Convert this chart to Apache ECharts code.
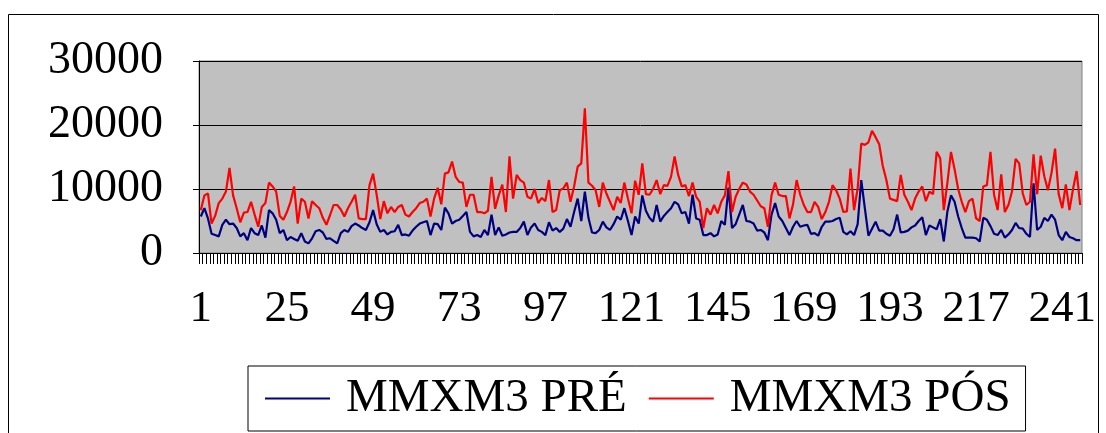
<!DOCTYPE html>
<html>
<head>
<meta charset="utf-8">
<script src="https://cdn.jsdelivr.net/npm/echarts@6/dist/echarts.min.js"></script>
<style>
  html, body { margin: 0; padding: 0; background: #fff; }
  #main { width: 1106px; height: 433px; }
</style>
</head>
<body>
<div id="main"></div>
<script>
// MMXM3 antes / depois, 246 observacoes
var seriesNames = ['MMXM3 PRÉ', 'MMXM3 PÓS'];

var mmxm3Pre = [
    5700, 7000, 5400, 3000, 2800, 2600, 4400, 5200, 4500, 4600, 3900, 2600, 3100, 2000, 3900, 3100,
    2800, 4300, 2400, 6700, 6200, 5200, 3100, 3600, 2000, 2500, 2200, 1900, 3100, 1800, 1500,
    2300, 3400, 3600, 3200, 2200, 2300, 1900, 1500, 3100, 3600, 3300, 4200, 4600, 4300, 3900,
    3600, 4800, 6700, 4500, 3300, 3600, 2900, 3300, 3400, 4400, 2800, 2900, 2700, 3500, 4100,
    4600, 4800, 5000, 2800, 4600, 4500, 3600, 7100, 6200, 4600, 5000, 5200, 5800, 6400, 3300,
    2600, 2800, 2500, 3600, 2800, 6000, 2800, 4000, 2700, 2900, 3200, 3300, 3300, 3900, 4900, 2800,
    4000, 4600, 3600, 3300, 2800, 4800, 3500, 3900, 3300, 3800, 5300, 4100, 6400, 8500, 5000,
    9600, 5500, 3200, 3100, 3600, 4900, 4000, 3600, 4500, 5700, 5200, 7000, 5000, 2800, 5700, 4600,
    9000, 6600, 5500, 4900, 7500, 4900, 5800, 6400, 7000, 8000, 7600, 6200, 6400, 4600, 9100,
    5400, 5200, 2800, 2800, 3100, 2600, 2900, 5000, 4400, 10200, 3900, 4500, 6000, 7500, 5000,
    4900, 4600, 3500, 3600, 3200, 2000, 6000, 7800, 5700, 5000, 3900, 2800, 4100, 5000, 4100,
    4300, 4400, 3000, 3100, 2700, 4100, 4900, 4900, 5000, 5300, 5500, 3300, 2900, 3400, 2800, 4500,
    11400, 7000, 2700, 3800, 4900, 3500, 3500, 3000, 2700, 3700, 6000, 3200, 3300, 3500, 4000,
    4300, 5000, 5600, 2800, 4300, 4000, 3700, 5300, 1800, 6500, 9000, 8000, 5700, 3900, 2400, 2400,
    2400, 2300, 1800, 5500, 5200, 4200, 3000, 2800, 3600, 2400, 2900, 3600, 4700, 3900, 3800,
    3000, 2500, 10900, 3600, 4100, 5500, 5000, 6000, 5200, 2800, 2000, 3300, 2500, 2300, 2000, 2000
];

var mmxm3Pos = [
    6700, 9000, 9300, 4600, 5800, 7800, 8500, 9600, 13300, 9000, 7000, 4800, 6300, 6400, 8000, 6000,
    4100, 7200, 7800, 11000, 10400, 9600, 5800, 5200, 6400, 8000, 10400, 4600, 8500, 8000, 5400,
    8100, 7500, 7000, 5500, 4400, 5900, 7500, 7500, 6800, 5700, 7000, 8000, 9100, 5400, 5300,
    5300, 10600, 12400, 9100, 5300, 8100, 6200, 7200, 6400, 7200, 7500, 6000, 5700, 6400, 7000,
    7800, 8000, 8500, 5700, 8500, 10200, 7600, 12400, 12600, 14300, 11900, 11100, 11000, 7200, 9100,
    9100, 6400, 6400, 6200, 6600, 11900, 6900, 9000, 10700, 6400, 15100, 8500, 12200, 11400, 11000, 8800,
    8500, 10000, 7800, 8600, 8100, 11400, 6400, 6700, 9800, 10100, 11000, 8000, 10400, 13500, 14000,
    22600, 11000, 10500, 9800, 7200, 11000, 9300, 8000, 6700, 8800, 7800, 11000, 8500, 6200, 11300, 9100,
    14000, 9200, 9100, 10000, 11400, 9200, 10600, 10500, 11900, 15100, 12200, 10400, 10600, 8900, 11000,
    8800, 8000, 3900, 7000, 6000, 7500, 6200, 8000, 9000, 12800, 6400, 8800, 10000, 11000, 10700,
    9600, 9100, 8200, 7300, 7000, 4100, 9000, 11000, 9100, 8900, 8900, 5400, 7600, 11400, 9100,
    7500, 6400, 6400, 8000, 7200, 5300, 6400, 8000, 10600, 9800, 8500, 6400, 6500, 13200, 6700, 10100,
    17100, 16900, 17300, 19100, 18100, 17000, 13600, 11400, 8500, 8300, 8100, 12200, 9100, 8000, 6700,
    8500, 9600, 10400, 8100, 9600, 9200, 15800, 14800, 6700, 11000, 15800, 13100, 10000, 8000, 6400, 8100,
    8500, 5400, 5000, 10400, 10600, 15800, 9100, 6700, 12300, 6400, 7500, 9600, 14700, 14000, 9300,
    7500, 8000, 15400, 9200, 15200, 12000, 9800, 12500, 16300, 9200, 7000, 10700, 6700, 10000, 12800, 7500
];

var categories = [];
for (var i = 1; i <= mmxm3Pos.length; i++) {
    categories.push(String(i));
}

var yTicks = { min: 0, max: 30000, interval: 10000 };

var serif = 'Liberation Serif';

var myChart = echarts.init(document.getElementById('main'));

var option = {
    animation: false,
    backgroundColor: '#ffffff',
    graphic: [{
        type: 'rect',
        shape: { x: 8.5, y: 14.5, width: 1090, height: 440 },
        style: { fill: 'none', stroke: '#000', lineWidth: 1 },
        z: -1
    }],
    grid: {
        left: 199,
        right: 24,
        top: 61,
        bottom: 180,
        show: true,
        backgroundColor: '#C0C0C0',
        borderColor: '#808080',
        borderWidth: 1
    },
    legend: {
        data: [
            { name: seriesNames[0], icon: 'rect' },
            { name: seriesNames[1], icon: 'rect' }
        ],
        left: 248,
        top: 366,
        itemWidth: 65,
        itemHeight: 2,
        itemGap: 22,
        padding: [9, 15, 9, 17],
        borderColor: '#000',
        borderWidth: 1,
        backgroundColor: '#fff',
        textStyle: {
            fontFamily: serif,
            fontSize: 47,
            color: '#000',
            padding: [0, 0, 0, 11]
        }
    },
    xAxis: {
        type: 'category',
        data: categories,
        boundaryGap: true,
        axisLine: { lineStyle: { color: '#000', width: 1 } },
        axisTick: { show: true, interval: 0, length: 11, lineStyle: { color: '#000' } },
        axisLabel: {
            interval: 23,
            margin: 34,
            fontFamily: serif,
            fontSize: 45,
            color: '#000'
        },
        splitLine: { show: false }
    },
    yAxis: {
        type: 'value',
        min: yTicks.min,
        max: yTicks.max,
        interval: yTicks.interval,
        axisLine: { show: true, lineStyle: { color: '#000', width: 1 } },
        axisTick: { show: true, length: 6, lineStyle: { color: '#000' } },
        axisLabel: {
            margin: 36,
            fontFamily: serif,
            fontSize: 46,
            color: '#000',
            formatter: function (v) { return String(v); }
        },
        splitLine: { show: true, lineStyle: { color: '#000', width: 1 } }
    },
    series: [
        {
            name: seriesNames[0],
            type: 'line',
            data: mmxm3Pre,
            symbol: 'none',
            lineStyle: { color: '#000080', width: 2.2 },
            itemStyle: { color: '#000080' }
        },
        {
            name: seriesNames[1],
            type: 'line',
            data: mmxm3Pos,
            symbol: 'none',
            lineStyle: { color: '#FF0000', width: 2.2 },
            itemStyle: { color: '#FF0000' }
        }
    ]
};

myChart.setOption(option);
</script>
</body>
</html>
